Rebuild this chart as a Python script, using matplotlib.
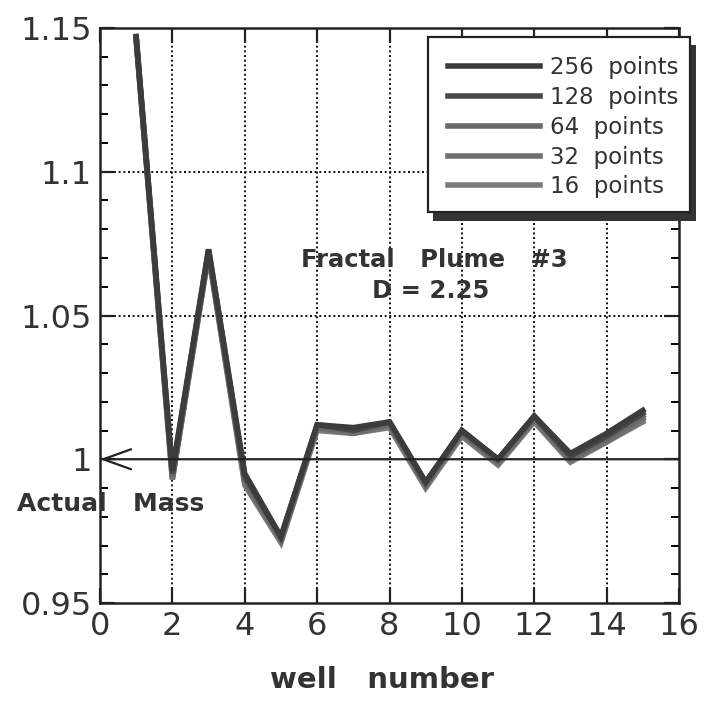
import numpy as np
import matplotlib
matplotlib.use("Agg")
import matplotlib.pyplot as plt
from matplotlib.patches import Rectangle

# ---------------- data ----------------
wells = [1, 2, 3, 4, 5, 6, 7, 8, 9, 10, 11, 12, 13, 14, 15]
mass_256 = [1.147, 0.996, 1.073, 0.995, 0.973, 1.012, 1.011, 1.013, 0.992, 1.010, 1.000, 1.015, 1.002, 1.009, 1.017]
mass_128 = [1.147, 0.995, 1.073, 0.994, 0.973, 1.012, 1.010, 1.013, 0.992, 1.010, 1.000, 1.015, 1.001, 1.008, 1.016]
mass_64 = [1.146, 0.994, 1.072, 0.993, 0.972, 1.011, 1.010, 1.012, 0.991, 1.009, 0.999, 1.014, 1.000, 1.007, 1.015]
mass_32 = [1.146, 0.993, 1.072, 0.992, 0.972, 1.011, 1.009, 1.012, 0.991, 1.009, 0.999, 1.014, 1.000, 1.006, 1.014]
mass_16 = [1.146, 0.993, 1.071, 0.991, 0.971, 1.010, 1.009, 1.011, 0.990, 1.008, 0.998, 1.013, 0.999, 1.006, 1.013]
series_labels = ["256  points", "128  points", "64  points", "32  points", "16  points"]
series_colors = ["#3c3c3c", "#484848", "#686868", "#707070", "#7a7a7a"]

x_ticks = [0, 2, 4, 6, 8, 10, 12, 14, 16]
y_ticks = [0.95, 1.0, 1.05, 1.1, 1.15]
y_tick_labels = ["0.95", "1", "1.05", "1.1", "1.15"]
actual_mass = 1.0

# ---------------- figure ----------------
W, H = 704, 703
fig = plt.figure(figsize=(W / 100, H / 100), dpi=100)
ax = fig.add_axes([100 / W, 1 - 603 / H, 579 / W, 575 / H])

all_series = [mass_256, mass_128, mass_64, mass_32, mass_16]
handles = []
for vals, lab, col in zip(all_series[::-1], series_labels[::-1], series_colors[::-1]):
    h, = ax.plot(wells, vals, color=col, lw=4.0, solid_joinstyle="miter", label=lab, zorder=3)
    handles.append(h)
handles = handles[::-1]

ax.set_xlim(0, 16)
ax.set_ylim(0.95, 1.15)
ax.set_xticks(x_ticks)
ax.set_yticks(y_ticks)
ax.set_yticklabels(y_tick_labels)
ax.set_yticks(np.arange(0.95, 1.15, 0.01), minor=True)
ax.tick_params(axis="both", which="major", direction="in", length=11, width=1.6,
               top=True, right=True, labelsize=23, pad=6, colors="#222222")
ax.tick_params(axis="both", labelcolor="#333333")
ax.tick_params(axis="y", which="minor", direction="in", length=6, width=1.4,
               left=True, right=True)
for sp in ax.spines.values():
    sp.set_linewidth(1.8)
    sp.set_color("#222222")

# dotted grid
for gx in x_ticks[1:-1]:
    ax.axvline(gx, color="#111111", lw=1.4, ls=(0, (1, 1.4)), zorder=1)
for gy in [1.05, 1.1]:
    ax.axhline(gy, color="#111111", lw=1.4, ls=(0, (1, 1.4)), zorder=1)

# actual mass line with arrow head
ax.annotate("", xy=(0, actual_mass), xytext=(16, actual_mass),
            arrowprops=dict(arrowstyle="->,head_length=1.0,head_width=0.36",
                            mutation_scale=20, lw=1.6, color="#222222",
                            shrinkA=0, shrinkB=0), zorder=4)

ax.text(0.28, 0.9845, "Actual   Mass", fontsize=18, fontweight="bold",
        color="#333333", ha="center", va="center", clip_on=False, zorder=6)
ax.text(9.25, 1.0693, "Fractal   Plume   #3", fontsize=17.5, fontweight="bold",
        color="#333333", ha="center", va="center", zorder=6)
ax.text(9.15, 1.0585, "D = 2.25", fontsize=17.5, fontweight="bold",
        color="#333333", ha="center", va="center", zorder=6)

fig.text(382 / W, 1 - 680 / H, "well   number", fontsize=21, fontweight="bold",
         color="#333333", ha="center", va="center")

# legend box with drop shadow
shadow = Rectangle((433 / W, 1 - 221 / H), 263 / W, 176 / H, transform=fig.transFigure,
                   facecolor="#333333", edgecolor="none", zorder=4)
box = Rectangle((428 / W, 1 - 212 / H), 262 / W, 175 / H, transform=fig.transFigure,
                facecolor="white", edgecolor="#222222", lw=1.6, zorder=4.5)
fig.patches.extend([shadow, box])

leg = fig.legend(handles, series_labels, loc="upper left",
                 bbox_to_anchor=(448 / W, 1 - 56 / H), bbox_transform=fig.transFigure,
                 frameon=False, fontsize=16.5, handlelength=4.0, handletextpad=0.45,
                 labelspacing=0.3, borderpad=0, borderaxespad=0)
leg.set_zorder(6)
for t in leg.get_texts():
    t.set_color("#333333")

fig.savefig("out.png", dpi=100)
